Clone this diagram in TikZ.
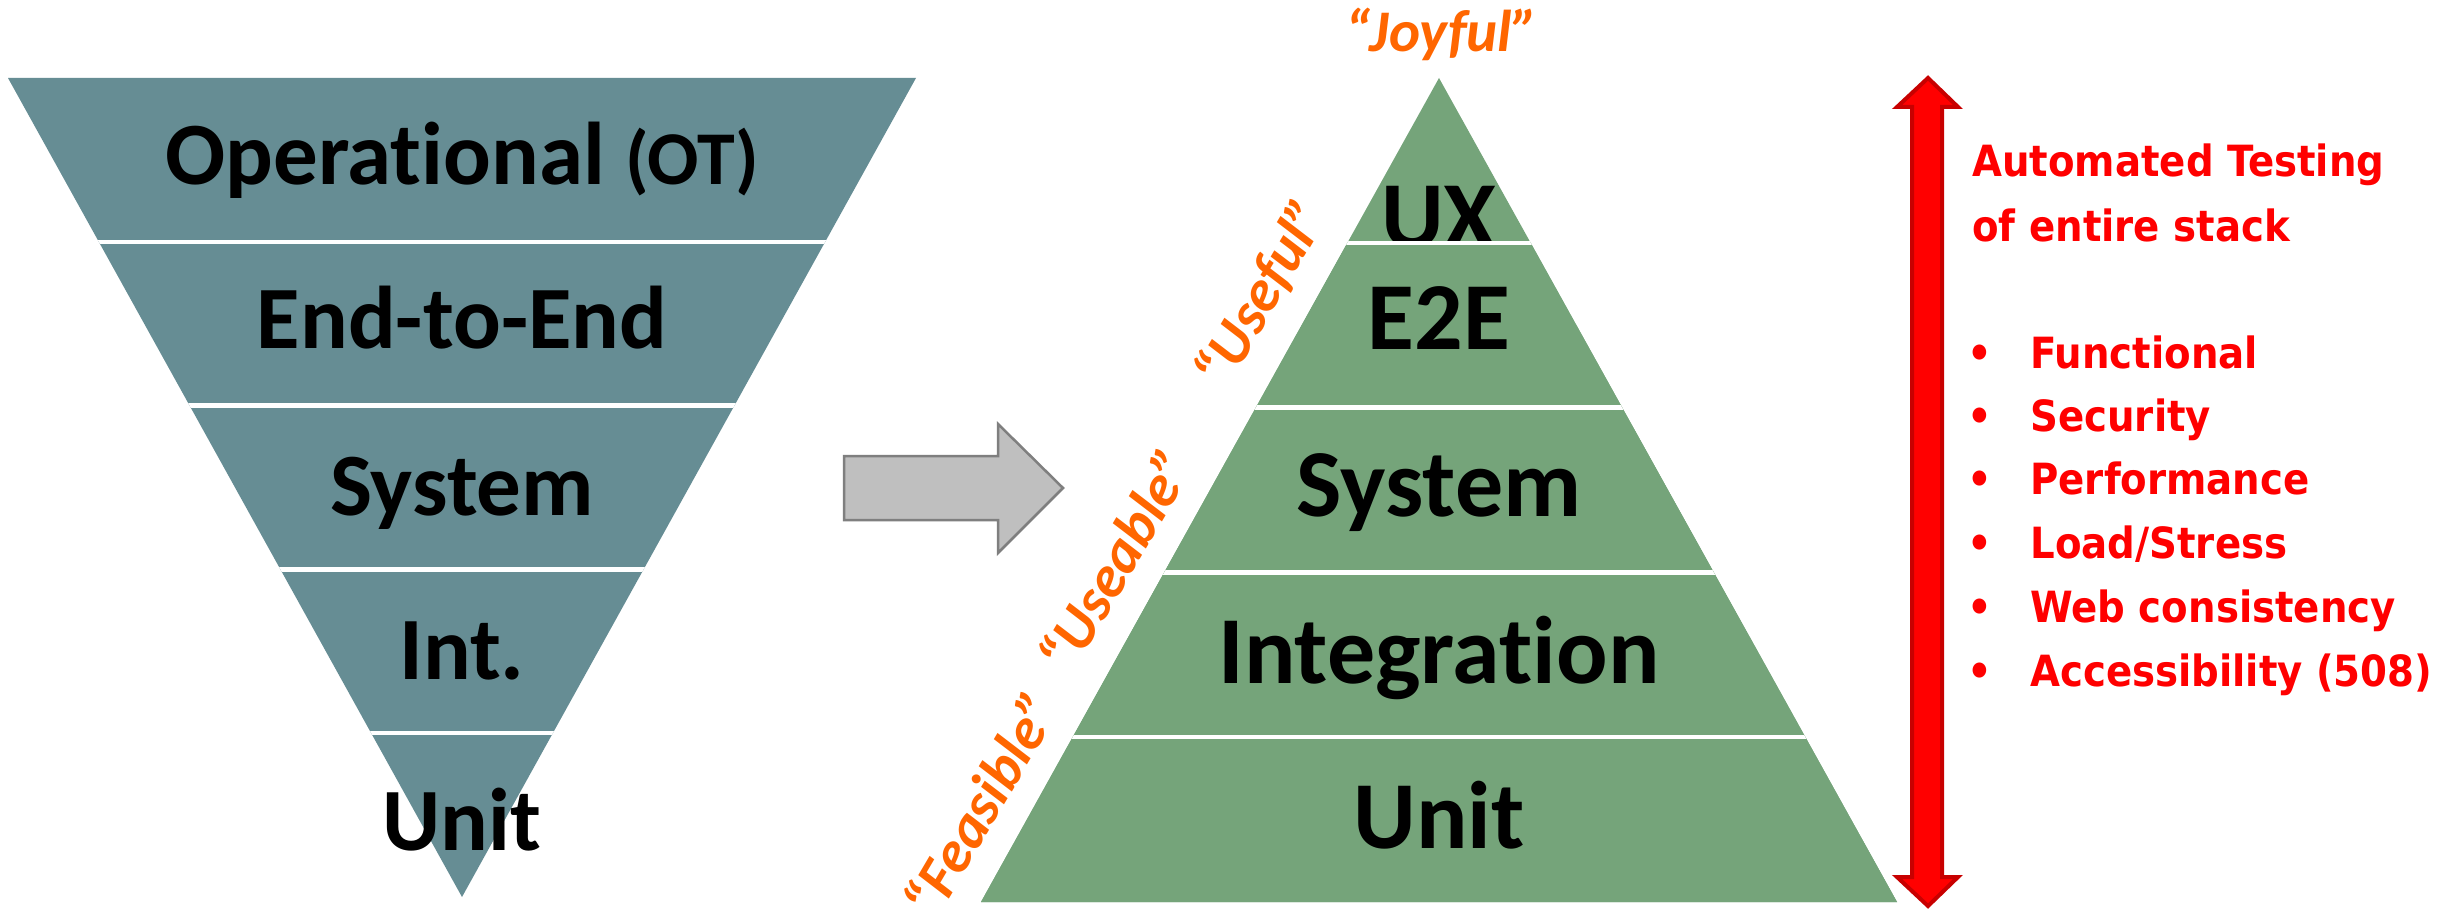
\documentclass[tikz,border=0pt]{standalone}
\usepackage{fontspec}
\setmainfont{Carlito}[Ligatures={TeX,NoCommon}]
\newfontfamily\redfont{DejaVu Sans Condensed}
\definecolor{tealc}{RGB}{102,141,148}
\definecolor{greenc}{RGB}{117,164,122}
\definecolor{orng}{RGB}{255,102,0}
\definecolor{darkred}{RGB}{200,0,0}
\definecolor{arrgray}{RGB}{191,191,191}
\definecolor{arrborder}{RGB}{127,127,127}
\tikzset{
 lbl/.style={font=\bfseries\fontsize{44.5}{50}\selectfont, inner sep=0, anchor=base},
 rlbl/.style={font=\bfseries\fontsize{48}{54}\selectfont, inner sep=0, anchor=base},
 quotelbl/.style={font=\bfseries\itshape\fontsize{29.5}{32}\selectfont, text=orng, inner sep=0},
 redtxt/.style={font=\redfont\bfseries\fontsize{21.5}{25}\selectfont, text=red, inner sep=0, anchor=base west},
 redbul/.style={font=\redfont\bfseries\fontsize{21.5}{25}\selectfont, text=red, inner sep=0, anchor=base},
 sepline/.style={white, line width=2.25pt},
}
\begin{document}
\begin{tikzpicture}[x=0.5pt,y=-0.5pt]
\useasboundingbox[fill=white] (0,0) rectangle (2448,909);
% ---- left inverted triangle ----
\fill[tealc] (8,78) -- (916,78) -- (462,897) -- cycle;
\node[lbl] (op) at (462,185) {Operational {\fontsize{38}{40}\selectfont(OT)}};
\node[lbl] (e2eL) at (462,349) {End-to-End};
\node[lbl] (sysL) at (462,515) {System};
\node[lbl] (intL) at (462,679) {Int.};
\node[lbl] (unitL) at (462,850) {Unit};
\begin{scope}
\clip (8,78) -- (916,78) -- (462,897) -- cycle;
\foreach \y in {241.8,405.6,569.4,733.2} \draw[sepline] (0,\y) -- (1000,\y);
\end{scope}
% ---- gray arrow ----
\draw[fill=arrgray, draw=arrborder, line width=1.25pt, line join=miter]
 (844,456) -- (998,456) -- (998,424) -- (1063,488) -- (998,553) -- (998,520) -- (844,520) -- cycle;
% ---- right pyramid ----
\fill[greenc] (1439,78) -- (1897,902) -- (981,902) -- cycle;
\node[rlbl] (ux) at (1439,249) {UX};
\fill[greenc] (1347.4,242.8) -- (1530.6,242.8) -- (1897,902) -- (981,902) -- cycle;
\node[rlbl] (e2eR) at (1439,350) {E2E};
\node[rlbl] (sysR) at (1439,516) {System};
\node[rlbl] (intR) at (1439,683) {Integration};
\node[rlbl] (unitR) at (1439,848) {Unit};
\begin{scope}
\clip (1439,78) -- (1897,902) -- (981,902) -- cycle;
\foreach \y in {242.8,407.6,572.4,737.2} \draw[sepline] (900,\y) -- (2000,\y);
\end{scope}
% ---- orange labels ----
\node[quotelbl, anchor=base] (joy) at (1442,52) {“Joyful”};
\node[quotelbl, rotate=59.5] (feas) at (980,804) {“Feasible”};
\node[quotelbl, rotate=59.5] (usea) at (1115,560) {“Useable”};
\node[quotelbl, rotate=59.5] (usef) at (1262,294) {“Useful”};
% ---- red double arrow ----
\draw[fill=red, draw=darkred, line width=2pt, line join=miter]
 (1928,78) -- (1958,107) -- (1942,107) -- (1942,877) -- (1958,877) -- (1928,906)
 -- (1897,877) -- (1912,877) -- (1912,107) -- (1897,107) -- cycle;
% ---- red text ----
\node[redtxt] (t1) at (1972,177) {Automated Testing};
\node[redtxt] (t2) at (1972,242) {of entire stack};
\foreach \n/\y/\txt in {1/369/Functional,2/431/Security,3/494/Performance,4/558/Load\slash Stress,5/622/Web consistency,6/686/Accessibility (508)}{
  \node[redbul] (b\n) at (1980,\y) {•};
  \node[redtxt] (i\n) at (2030,\y) {\txt};
}
\end{tikzpicture}
\end{document}
